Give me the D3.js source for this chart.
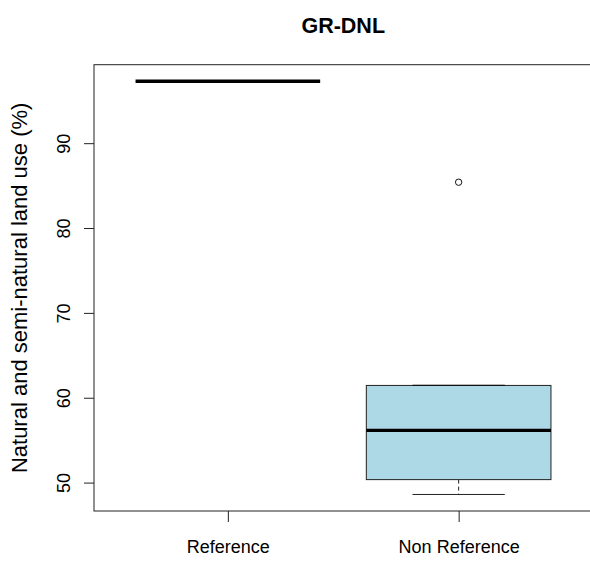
<!DOCTYPE html>
<html>
<head>
<meta charset="utf-8">
<script src="https://cdn.jsdelivr.net/npm/d3@7"></script>
<style>
  html, body { margin: 0; padding: 0; background: #fff; }
  svg { display: block; font-family: "Liberation Sans", Arial, Helvetica, sans-serif; }
</style>
</head>
<body>
<svg id="chart" width="590" height="562"></svg>
<script>
// Box-plot summary statistics per group
const groups   = ["Reference", "Non Reference"];
const whiskLo  = [97.3, 48.6];
const q1       = [97.3, 50.35];
const medians  = [97.3, 56.15];
const q3       = [97.3, 61.45];
const whiskHi  = [97.3, 61.45];
const outliers = [[], [85.4]];
const yTicks   = [50, 60, 70, 80, 90];

const title  = "GR-DNL";
const yTitle = "Natural and semi-natural land use (%)";

const svg = d3.select("#chart");
const plot = { left: 94, right: 592.5, top: 64.7, bottom: 511 };

// Y range: data extent padded by 4% on each side
const allVals = whiskLo.concat(whiskHi, outliers.flat());
const lo = d3.min(allVals), hi = d3.max(allVals);
const pad = (hi - lo) * 0.04;
const y = d3.scaleLinear().domain([lo - pad, hi + pad]).range([plot.bottom, plot.top]);

const x = d3.scalePoint().domain(groups).range([plot.left, plot.right]).padding(0.58);
const boxW = x.step() * 0.8;
const capW = boxW / 2;

const stats = groups.map((g, i) => ({
  g, lo: whiskLo[i], q1: q1[i], med: medians[i], q3: q3[i], hi: whiskHi[i], out: outliers[i]
}));

const g = svg.append("g");

// Boxes
const box = g.selectAll(".box").data(stats).enter().append("g").attr("class", "box");

// dashed whiskers
box.append("line")
  .attr("x1", d => x(d.g)).attr("x2", d => x(d.g))
  .attr("y1", d => y(d.q1)).attr("y2", d => y(d.lo))
  .attr("stroke", "#222").attr("stroke-dasharray", "4,3").attr("stroke-width", 1);
box.append("line")
  .attr("x1", d => x(d.g)).attr("x2", d => x(d.g))
  .attr("y1", d => y(d.q3)).attr("y2", d => y(d.hi))
  .attr("stroke", "#222").attr("stroke-dasharray", "4,3").attr("stroke-width", 1);

// lower whisker caps
box.append("line")
  .attr("x1", d => x(d.g) - capW / 2).attr("x2", d => x(d.g) + capW / 2)
  .attr("y1", d => y(d.lo)).attr("y2", d => y(d.lo))
  .attr("stroke", "#222").attr("stroke-width", 1);

box.append("rect")
  .attr("x", d => x(d.g) - boxW / 2)
  .attr("width", boxW)
  .attr("y", d => y(d.q3))
  .attr("height", d => Math.max(0, y(d.q1) - y(d.q3)))
  .attr("fill", "#ADD8E6")
  .attr("stroke", "#222").attr("stroke-width", 1);

// upper whisker caps
box.append("line")
  .attr("x1", d => x(d.g) - capW / 2).attr("x2", d => x(d.g) + capW / 2)
  .attr("y1", d => y(d.hi)).attr("y2", d => y(d.hi))
  .attr("stroke", "#111").attr("stroke-width", 1.3);

// medians
box.append("line")
  .attr("x1", d => x(d.g) - boxW / 2).attr("x2", d => x(d.g) + boxW / 2)
  .attr("y1", d => y(d.med)).attr("y2", d => y(d.med))
  .attr("stroke", "#000").attr("stroke-width", 3.4);

// outliers
box.selectAll("circle").data(d => d.out.map(v => ({ g: d.g, v }))).enter().append("circle")
  .attr("cx", d => x(d.g)).attr("cy", d => y(d.v)).attr("r", 3.2)
  .attr("fill", "none").attr("stroke", "#111").attr("stroke-width", 1);

// Frame
svg.append("rect")
  .attr("x", plot.left).attr("y", plot.top)
  .attr("width", plot.right - plot.left).attr("height", plot.bottom - plot.top)
  .attr("fill", "none").attr("stroke", "#222").attr("stroke-width", 1);

// Y axis
const yAxis = d3.axisLeft(y).tickValues(yTicks).tickSize(10).tickPadding(0).tickFormat(d3.format("d"));
const ya = svg.append("g").attr("transform", `translate(${plot.left},0)`).call(yAxis);
ya.select(".domain").attr("stroke", "none");
ya.selectAll(".tick line").attr("stroke", "#222");
ya.selectAll(".tick text")
  .attr("x", null).attr("dy", null)
  .attr("text-anchor", "middle")
  .attr("transform", "translate(-24,0) rotate(-90)")
  .attr("font-size", 18).attr("fill", "#000");

// X axis
const xAxis = d3.axisBottom(x).tickSize(11).tickPadding(0);
const xa = svg.append("g").attr("transform", `translate(0,${plot.bottom})`).call(xAxis);
xa.select(".domain").remove();
xa.selectAll(".tick line").attr("stroke", "#222");
xa.selectAll(".tick text")
  .attr("y", 42).attr("dy", null)
  .attr("font-size", 18).attr("fill", "#000");

// Titles
svg.append("text")
  .attr("x", (plot.left + plot.right) / 2).attr("y", 33)
  .attr("text-anchor", "middle").attr("font-weight", "bold").attr("font-size", 21.5)
  .text(title);

svg.append("text")
  .attr("transform", `translate(27,${(plot.top + plot.bottom) / 2}) rotate(-90)`)
  .attr("text-anchor", "middle").attr("font-size", 22)
  .text(yTitle);
</script>
</body>
</html>
